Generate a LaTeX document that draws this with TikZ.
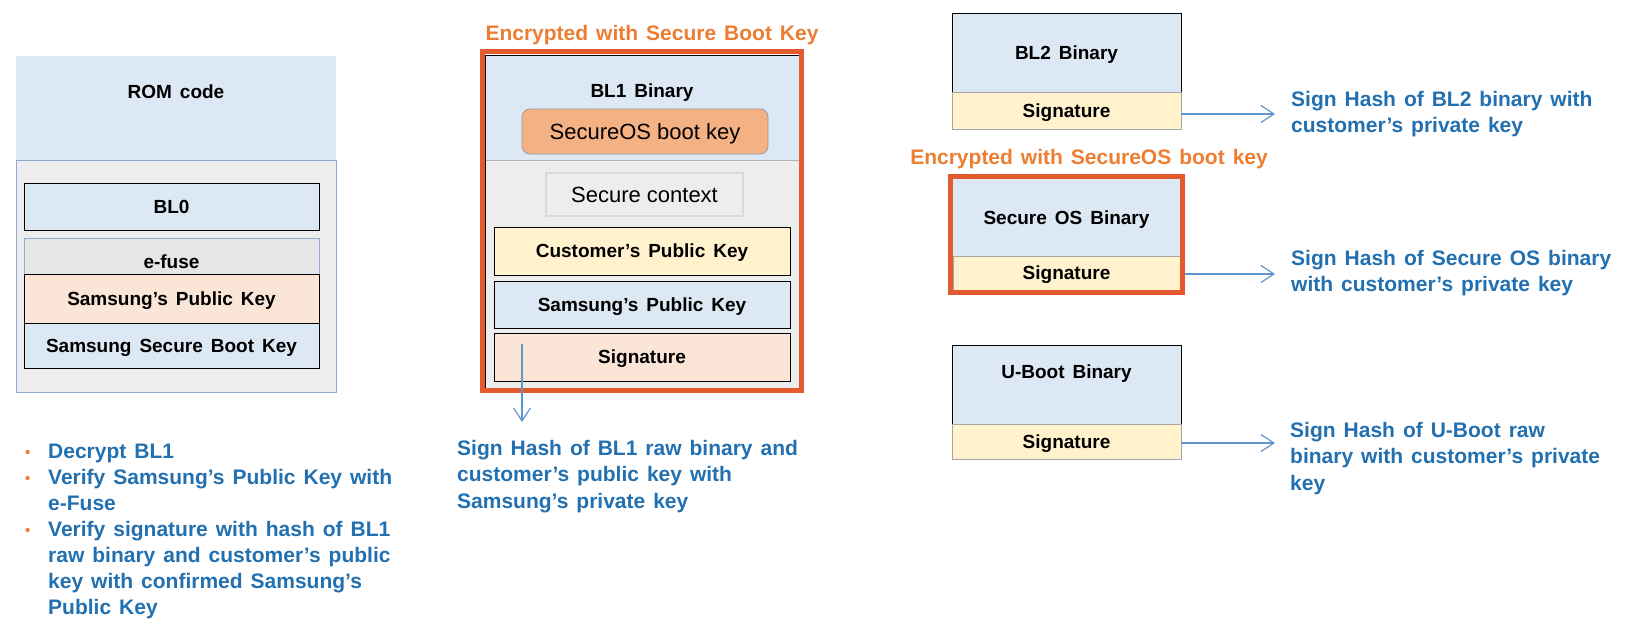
\documentclass[tikz,border=0pt]{standalone}
\usepackage{fontspec}
\setmainfont{Liberation Sans}
\usetikzlibrary{arrows.meta}
\definecolor{lblue}{RGB}{221,232,245}
\definecolor{lgray}{RGB}{237,237,237}
\definecolor{efgray}{RGB}{231,230,230}
\definecolor{peach}{RGB}{251,229,214}
\definecolor{lyel}{RGB}{255,242,204}
\definecolor{sobkfill}{RGB}{244,177,131}
\definecolor{frame}{RGB}{226,90,45}
\definecolor{orng}{RGB}{237,125,49}
\definecolor{steel}{RGB}{143,170,210}
\definecolor{arrc}{RGB}{95,150,205}
\definecolor{btxt}{RGB}{34,112,176}
\newcommand{\bulx}{\makebox[23pt][l]{\textcolor{orng}{\fontsize{15}{15}\selectfont\raisebox{1pt}{•}}}}
\newcommand{\lblfont}{\bfseries\fontsize{19}{23}\selectfont\setlength{\spaceskip}{0.42em}}
\newcommand{\btfont}{\bfseries\fontsize{21}{26.5}\selectfont\setlength{\spaceskip}{0.38em}}
\newcommand{\bulfont}{\bfseries\fontsize{21}{26}\selectfont\setlength{\spaceskip}{0.38em}}
\begin{document}
\begin{tikzpicture}[x=1pt,y=-1pt,
  lbl/.style={font=\lblfont,text height=13.6pt,text depth=0pt,inner sep=0pt},
  reg/.style={font=\fontsize{22}{26}\selectfont,text height=15.8pt,text depth=0pt,inner sep=0pt},
  rb/.style n args={2}{rectangle,inner sep=0pt,outer sep=0pt,minimum width=#1,minimum height=#2},
  blk/.style={draw=black,line width=0.8pt},
  grb/.style={draw=black!35,line width=0.8pt},
  ofr/.style={draw=frame,line width=5pt},
  btext/.style={text=btxt,font=\btfont,align=left,anchor=north west,inner sep=0pt},
  otext/.style={text=orng,font=\btfont,inner sep=0pt,text height=15pt,text depth=0pt},
  arr/.style={draw=arrc,line width=1.3pt,-{Straight Barb[length=13pt,width=17pt,line width=1.2pt]}}]
\useasboundingbox (0,0) rectangle (1632,633);

% ---------- ROM code ----------
\node[rb={320pt}{104pt},fill=lblue] (romtop) at (176,108) {};
\node[rb={320pt}{232pt},fill=lgray,draw=steel,line width=0.8pt] (rombot) at (176,276) {};
\node[lbl] (romlbl) at (176,92) {ROM code};
\node[rb={295pt}{47pt},fill=lblue,blk,lbl] (bl0) at (171.5,206.5) {BL0};
\node[rb={295pt}{130pt},fill=efgray,draw=steel,line width=0.8pt] (efuse) at (171.5,303) {};
\node[lbl] (eflbl) at (171.5,262) {e-fuse};
\node[rb={295pt}{49pt},fill=peach,blk,lbl] (spk1) at (171.5,298.5) {Samsung’s Public Key};
\node[rb={295pt}{45pt},fill=lblue,blk,lbl] (ssbk) at (171.5,345.5) {Samsung Secure Boot Key};

% ---------- BL1 ----------
\node[otext] (enc1) at (652,33) {Encrypted with Secure Boot Key};
\node[rb={314pt}{333pt},fill=lgray] (bl1in) at (642,221.5) {};
\node[rb={314pt}{105pt},fill=lblue] (bl1top) at (642,107.5) {};
\draw[black!30,line width=0.8pt] (bl1top.south west) -- (bl1top.south east);
\draw[black,line width=0.6pt] (bl1in.north west) rectangle (bl1in.south east);
\node[rb={319pt}{339pt},ofr] (bl1fr) at (642,221) {};
\node[lbl] (bl1lbl) at (642,91) {BL1 Binary};
\node[rb={246pt}{45pt},fill=sobkfill,draw=black!40,line width=0.8pt,rounded corners=8pt,reg] (sobk) at (645,131.5) {SecureOS boot key};
\node[rb={197pt}{43pt},fill=lgray,draw=black!15,line width=1.5pt,reg] (secctx) at (644.5,194.5) {Secure context};
\node[rb={296pt}{48pt},fill=lyel,blk,lbl] (cpk) at (642,251) {Customer’s Public Key};
\node[rb={296pt}{47pt},fill=lblue,blk,lbl] (spk2) at (642,304.5) {Samsung’s Public Key};
\node[rb={296pt}{48pt},fill=peach,blk,lbl] (sig1) at (642,357) {Signature};
\coordinate (a1s) at (522,344);
\coordinate (a1e) at (522,422);
\draw[arr] (a1s) -- (a1e);
\node[btext] (t1) at (457,440) {Sign Hash of BL1 raw binary and\\customer’s public key with\\Samsung’s private key};

% ---------- BL2 ----------
\node[rb={229pt}{79pt},fill=lblue,blk,lbl] (bl2) at (1066.5,52.5) {BL2 Binary};
\node[rb={229pt}{37pt},fill=lyel,grb,lbl] (bl2sig) at (1066.5,110.5) {Signature};
\coordinate (a2e) at (1275,114);
\draw[arr] (bl2sig.east |- a2e) -- (a2e);
\node[btext] (t2) at (1291,91) {Sign Hash of BL2 binary with\\customer’s private key};

% ---------- Secure OS ----------
\node[otext,anchor=east] (enc2) at (1268,157) {Encrypted with SecureOS boot key};
\node[rb={227pt}{77pt},fill=lblue,lbl] (sos) at (1066.5,217.5) {Secure OS Binary};
\node[rb={227pt}{34pt},fill=lyel,grb,lbl] (sossig) at (1066.5,273) {Signature};
\node[rb={232pt}{116pt},ofr] (sosfr) at (1066.5,234.5) {};
\coordinate (a3e) at (1275,274);
\draw[arr] ([xshift=2.5pt]sosfr.east |- a3e) -- (a3e);
\node[btext] (t3) at (1291,250) {Sign Hash of Secure OS binary\\with customer’s private key};

% ---------- U-Boot ----------
\node[rb={229pt}{79pt},fill=lblue,blk] (uboot) at (1066.5,384.5) {};
\node[lbl] (ublbl) at (1066.5,372) {U-Boot Binary};
\node[rb={229pt}{35pt},fill=lyel,grb,lbl] (ubsig) at (1066.5,441.5) {Signature};
\coordinate (a4e) at (1275,443);
\draw[arr] (ubsig.east |- a4e) -- (a4e);
\node[btext] (t4) at (1290,422) {Sign Hash of U-Boot raw\\binary with customer’s private\\key};

% ---------- bullets ----------
\node[btext,font=\bulfont] (bul) at (25,444)
 {\bulx Decrypt BL1\\
  \bulx Verify Samsung’s Public Key with\\
  \hspace*{23pt}e-Fuse\\
  \bulx Verify signature with hash of BL1\\
  \hspace*{23pt}raw binary and customer’s public\\
  \hspace*{23pt}key with confirmed Samsung’s\\
  \hspace*{23pt}Public Key};
\end{tikzpicture}
\end{document}
